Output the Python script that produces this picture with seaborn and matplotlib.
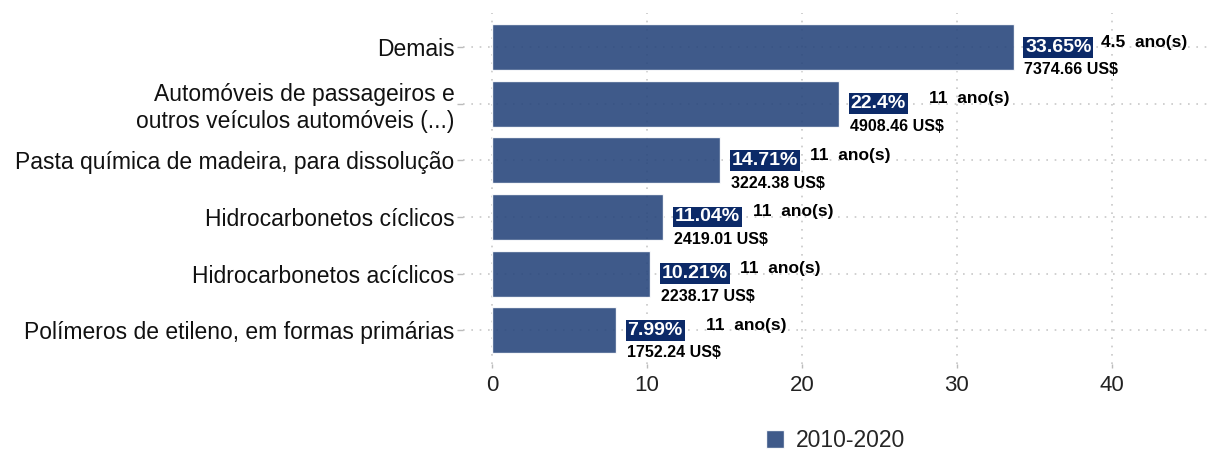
import pandas as pd
import numpy as np
import matplotlib
matplotlib.use("Agg")
import matplotlib.pyplot as plt
import seaborn as sns

categories = [
    "Demais",
    "Automóveis de passageiros e\noutros veículos automóveis (...)",
    "Pasta química de madeira, para dissolução",
    "Hidrocarbonetos cíclicos",
    "Hidrocarbonetos acíclicos",
    "Polímeros de etileno, em formas primárias",
]
share_pct = [33.65, 22.4, 14.71, 11.04, 10.21, 7.99]
share_labels = ["33.65%", "22.4%", "14.71%", "11.04%", "10.21%", "7.99%"]
years = ["4.5", "11", "11", "11", "11", "11"]
value_usd = ["7374.66", "4908.46", "3224.38", "2419.01", "2238.17", "1752.24"]
period = "2010-2020"

df = pd.DataFrame({
    "produto": categories,
    "pct": share_pct,
    "periodo": period,
})

sns.set_theme(style="white")
plt.rcParams["font.family"] = ["Liberation Sans", "DejaVu Sans"]

# slightly transparent bars so the dotted grid shows through, as in the original
bar_color = "#2a487d"
box_color = "#0c2a68"

fig = plt.figure(figsize=(12.08, 4.53), dpi=100)
ax = fig.add_axes([0.383, 0.196, 0.617, 0.775])

sns.barplot(
    data=df, y="produto", x="pct", hue="periodo",
    palette=[bar_color], orient="h", width=0.81,
    saturation=1, alpha=0.9, ax=ax, zorder=2,
)

# labels next to each bar
for i, (v, pl, yr, us) in enumerate(zip(share_pct, share_labels, years, value_usd)):
    ax.text(v + 0.75, i, pl, ha="left", va="center", color="white",
            fontsize=14, fontweight="bold", zorder=4,
            bbox=dict(boxstyle="square,pad=0.1", fc=box_color, ec="none"))
    ax.text(v + 8.4, i - 0.09, yr + "  ano(s)", ha="center", va="center",
            color="black", fontsize=12.5, fontweight="bold", zorder=4)
    ax.text(v + 0.7, i + 0.4, us + " US$", ha="left", va="center",
            color="black", fontsize=11.5, fontweight="bold", zorder=4)

ax.set_xlim(-1.9, 46.2)
ax.set_ylim(5.6, -0.6)
ax.set_xticks([0, 10, 20, 30, 40])
ax.set_xlabel("")
ax.set_ylabel("")

ax.grid(True, which="major", axis="both", color="#c8c8c8",
        linestyle=(0, (1, 4)), linewidth=1.2, zorder=0)
ax.set_axisbelow(True)
for s in ax.spines.values():
    s.set_visible(False)

ax.tick_params(axis="y", labelsize=16.5, length=4, width=1, color="#bbbbbb",
               pad=2, left=True)
ax.tick_params(axis="x", labelsize=16, length=3, width=1, color="#bbbbbb",
               pad=5, bottom=True, labelcolor="#222222")
for t in ax.get_yticklabels():
    t.set_color("#111111")

ax.legend(loc="upper center", bbox_to_anchor=(0.5, -0.125), frameon=False,
          fontsize=16.5, handlelength=0.8, handleheight=0.8,
          handletextpad=0.5, title=None)

fig.savefig("out.png", dpi=100, facecolor="white")
